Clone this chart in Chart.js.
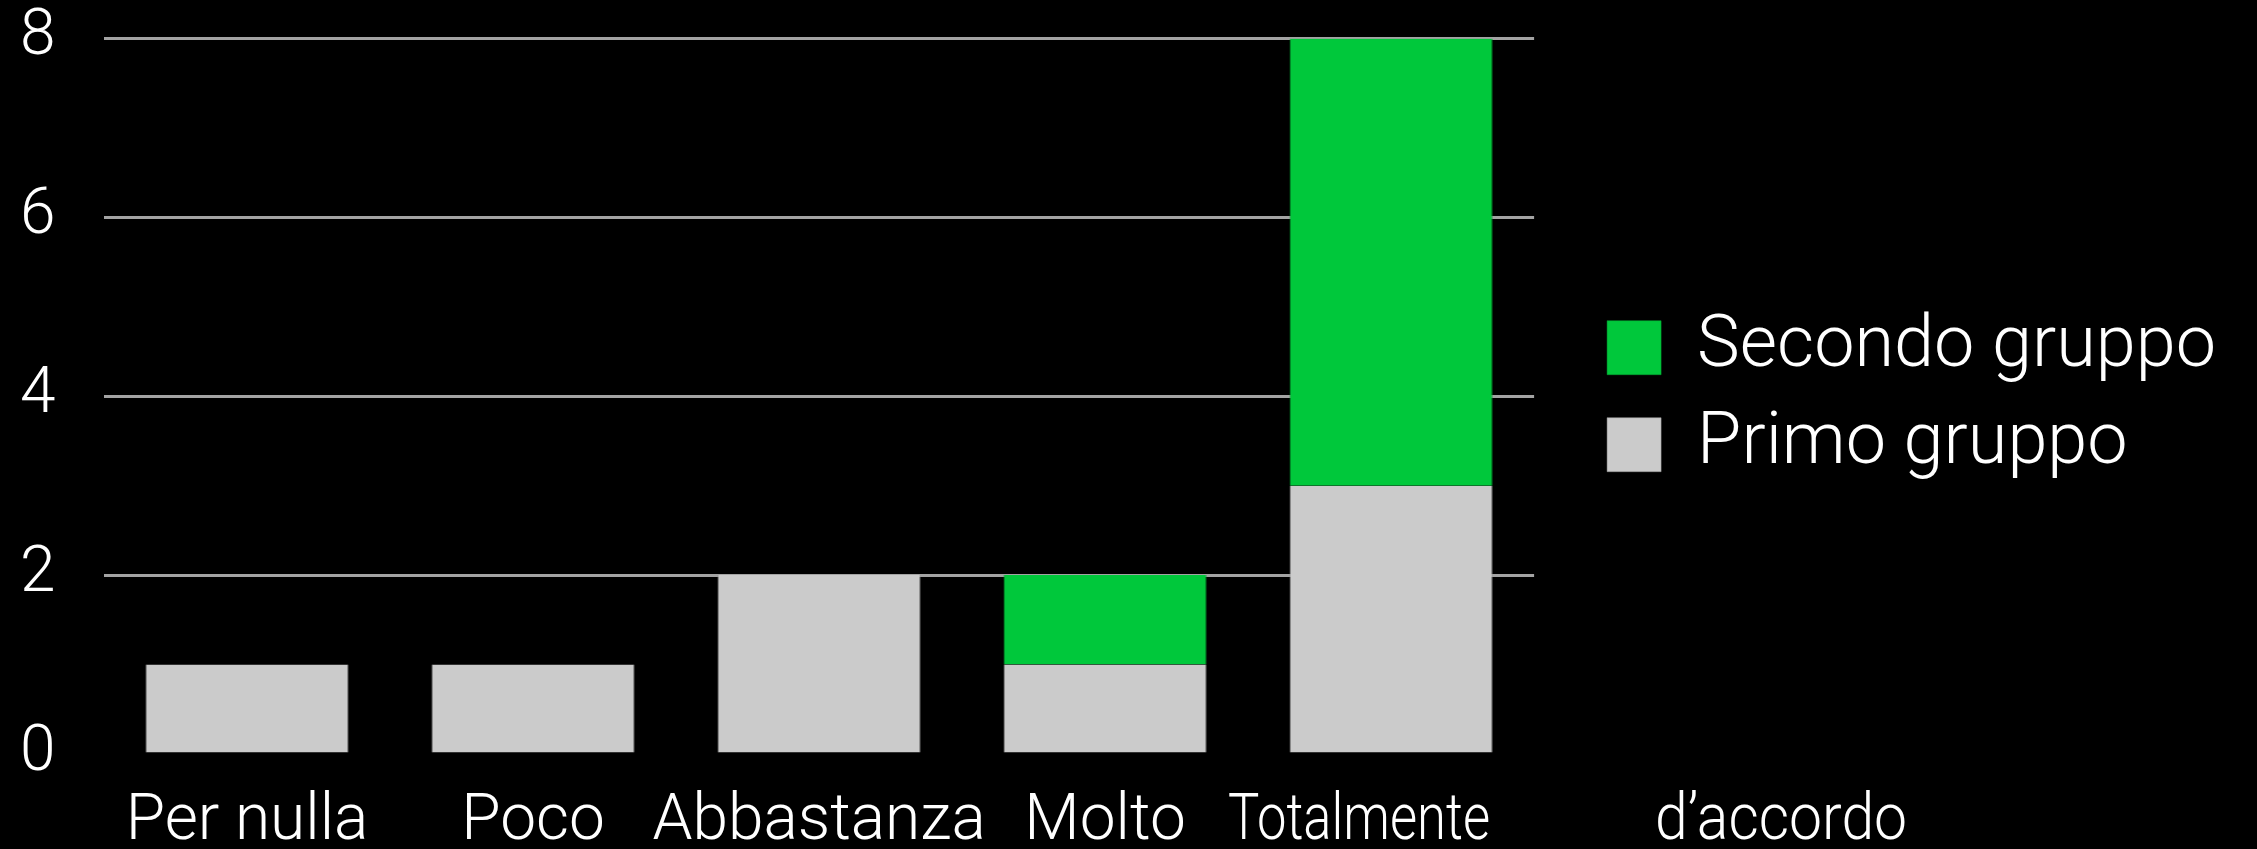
<!DOCTYPE html>
<html>
<head>
<meta charset="utf-8">
<script src="https://cdn.jsdelivr.net/npm/chart.js@4/dist/chart.umd.min.js"></script>
<style>
  html, body { margin: 0; padding: 0; background: #000; }
  #wrap { width: 2257px; height: 849px; }
</style>
</head>
<body>
<div id="wrap"><canvas id="myChart" width="2257" height="849"></canvas></div>
<script>
const categories = ["Per nulla", "Poco", "Abbastanza", "Molto", "Totalmente d\u2019accordo"];
const primoGruppo = [1, 1, 2, 1, 3];
const secondoGruppo = [0, 0, 0, 1, 5];
const yTicks = [0, 2, 4, 6, 8];

const FONT = "Roboto, 'Helvetica Neue', 'Liberation Sans', sans-serif";
Chart.defaults.font.family = FONT;
Chart.defaults.font.weight = 300;
Chart.defaults.color = "#ffffff";

// the last label is split in two words, spread like in the original slide
const splitLastLabel = {
  id: "splitLastLabel",
  afterDraw(chart) {
    const x = chart.scales.x;
    const words = categories[categories.length - 1].split(" ");
    const cx = x.getPixelForValue(categories.length - 1);
    const ctx = chart.ctx;
    ctx.save();
    ctx.font = "300 64px " + FONT;
    ctx.fillStyle = "#ffffff";
    ctx.textBaseline = "middle";
    const y = x.top + x.options.ticks.padding + 64 * 1.2 / 2;
    ctx.textAlign = "right";
    ctx.fillText(words[0], cx + 99, y, 262);
    ctx.textAlign = "left";
    ctx.fillText(words[1], cx + 264, y, 252);
    ctx.restore();
  },
};

const ctx = document.getElementById("myChart").getContext("2d");
new Chart(ctx, {
  type: "bar",
  data: {
    labels: categories,
    datasets: [
      {
        label: "Primo gruppo",
        data: primoGruppo,
        backgroundColor: "#cbcbcb",
        borderColor: "#9a9a9a",
        borderWidth: { left: 1, right: 1, top: 0, bottom: 0 },
        borderSkipped: false,
        categoryPercentage: 1,
        barPercentage: 0.71,
      },
      {
        label: "Secondo gruppo",
        data: secondoGruppo,
        backgroundColor: "#00c83b",
        borderColor: "#00a030",
        borderWidth: { left: 1, right: 1, top: 0, bottom: 0 },
        borderSkipped: false,
        categoryPercentage: 1,
        barPercentage: 0.71,
      },
    ],
  },
  options: {
    responsive: false,
    animation: false,
    layout: {
      padding: { left: 20, right: 31, top: 0, bottom: 0 },
    },
    plugins: {
      tooltip: { enabled: false },
      legend: {
        position: "right",
        fullSize: false,
        reverse: true,
        maxWidth: 900,
        labels: {
          boxWidth: 54,
          boxHeight: 54,
          padding: 25,
          color: "#ffffff",
          font: { size: 72, weight: 300 },
        },
      },
    },
    scales: {
      x: {
        stacked: true,
        grid: { display: false, drawTicks: false },
        border: { display: false },
        afterFit: (scale) => {
          scale.height = 95;
        },
        ticks: {
          font: { size: 64, weight: 300 },
          padding: 31,
          maxRotation: 0,
          autoSkip: false,
          color: (c) => (c.index === categories.length - 1 ? "rgba(0,0,0,0)" : "#ffffff"),
        },
      },
      y: {
        stacked: true,
        min: 0,
        max: 8,
        afterBuildTicks: (scale) => {
          scale.ticks = yTicks.map((v) => ({ value: v }));
        },
        afterFit: (scale) => {
          scale.width = 84;
        },
        grid: {
          drawTicks: false,
          lineWidth: 3,
          color: (c) => (c.tick && c.tick.value === 0 ? "rgba(0,0,0,0)" : "#a3a3a3"),
        },
        border: { display: false },
        ticks: {
          font: { size: 64, weight: 300 },
          padding: 0,
          crossAlign: "far",
          color: "#ffffff",
        },
      },
      // empty spacer between plot and legend
      gap: {
        type: "linear",
        position: "right",
        display: true,
        grid: { display: false },
        border: { display: false },
        ticks: { display: false },
        afterFit: (scale) => {
          scale.width = 48;
        },
      },
    },
  },
  plugins: [splitLastLabel],
});
</script>
</body>
</html>
